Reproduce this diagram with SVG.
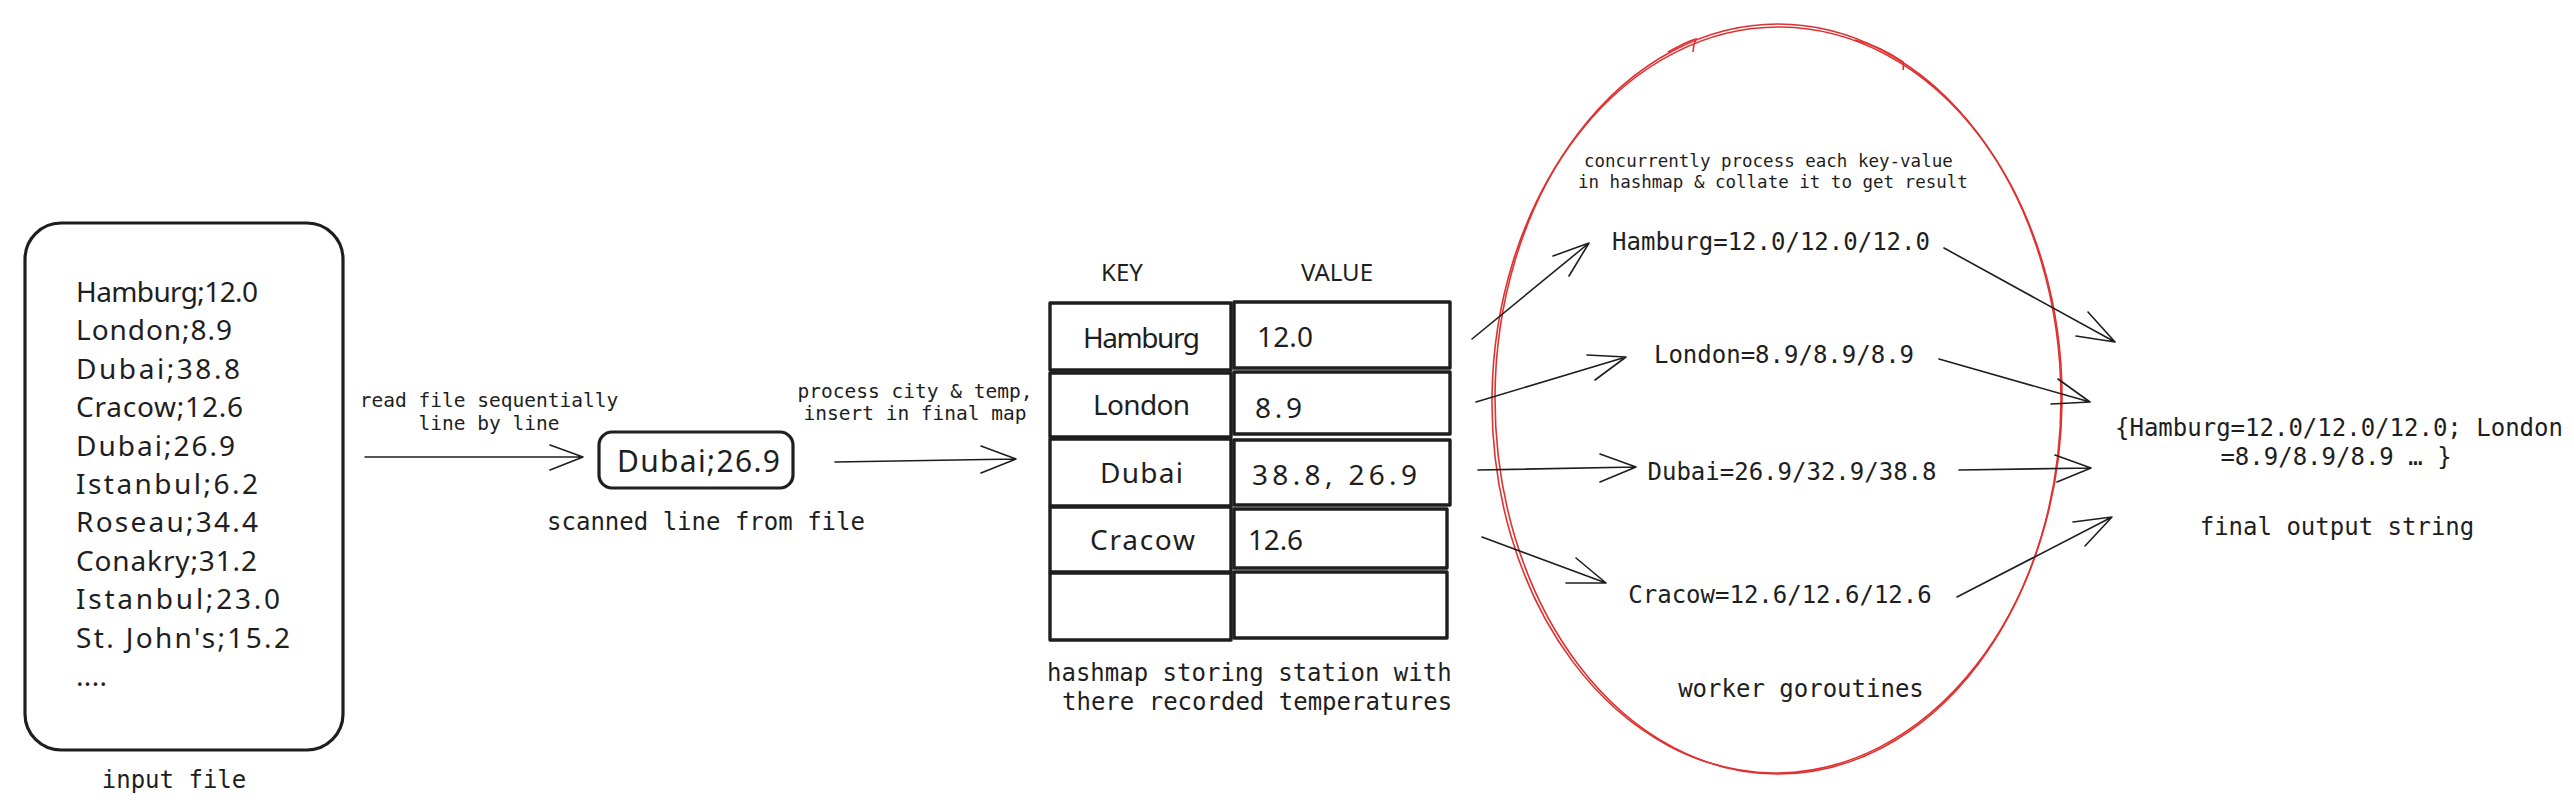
<svg xmlns="http://www.w3.org/2000/svg" width="2574" height="802" viewBox="0 0 2574 802">
<style>
.hand{font-family:"Noto Sans","DejaVu Sans",sans-serif;fill:#1e1e1e}
.mono{font-family:"DejaVu Sans Mono","Liberation Mono",monospace;fill:#1e1e1e}
.box{fill:none;stroke:#1e1e1e;stroke-width:3.2;stroke-linejoin:round}
.cell{fill:none;stroke:#1e1e1e;stroke-width:3.4;stroke-linejoin:round}
.conn{fill:none;stroke:#1e1e1e;stroke-width:1.6;stroke-linecap:round;stroke-linejoin:round}
.red{fill:none;stroke:#e03131;stroke-width:1.6}
</style>
<rect width="2574" height="802" fill="#ffffff"/>

<g id="input-file">
<rect class="box" x="25" y="223" width="318" height="527" rx="36"/>
<g class="hand" font-size="28">
<text x="76" y="302" textLength="182">Hamburg;12.0</text>
<text x="76" y="340.4" textLength="156">London;8.9</text>
<text x="76" y="378.8" textLength="164">Dubai;38.8</text>
<text x="76" y="417.2" textLength="167">Cracow;12.6</text>
<text x="76" y="455.6" textLength="159">Dubai;26.9</text>
<text x="76" y="494" textLength="182">Istanbul;6.2</text>
<text x="76" y="532.4" textLength="182">Roseau;34.4</text>
<text x="76" y="570.8" textLength="181">Conakry;31.2</text>
<text x="76" y="609.2" textLength="204">Istanbul;23.0</text>
<text x="76" y="647.6" textLength="214">St. John's;15.2</text>
<text x="76" y="686" textLength="31">....</text>
</g>
<text class="mono" x="174" y="788" font-size="24" text-anchor="middle">input file</text>
</g>

<g id="scanned-line">
<rect class="box" x="599" y="432" width="194" height="56" rx="13"/>
<text class="hand" x="617" y="472" font-size="30" textLength="163">Dubai;26.9</text>
<text class="mono" x="706" y="530" font-size="24" text-anchor="middle">scanned line from file</text>
</g>

<g id="hashmap">
<text class="hand" x="1122" y="281" font-size="24" text-anchor="middle">KEY</text>
<text class="hand" x="1337" y="281" font-size="24" text-anchor="middle">VALUE</text>
<rect class="cell" x="1050" y="303" width="181" height="67"/>
<rect class="cell" x="1234" y="302" width="216" height="66"/>
<rect class="cell" x="1050" y="373" width="181" height="64"/>
<rect class="cell" x="1234" y="372" width="216" height="62"/>
<rect class="cell" x="1050" y="439" width="181" height="67"/>
<rect class="cell" x="1234" y="440" width="216" height="65"/>
<rect class="cell" x="1050" y="507" width="181" height="65"/>
<rect class="cell" x="1234" y="509" width="213" height="59"/>
<rect class="cell" x="1050" y="573" width="181" height="67"/>
<rect class="cell" x="1234" y="572" width="213" height="66"/>
<g class="hand" font-size="28">
<text x="1083" y="348" textLength="117">Hamburg</text>
<text x="1093" y="415" textLength="97">London</text>
<text x="1100" y="483" textLength="83">Dubai</text>
<text x="1090" y="550" textLength="105">Cracow</text>
<text x="1257" y="347" textLength="56">12.0</text>
<text x="1255" y="418" textLength="47">8.9</text>
<text x="1252" y="485" textLength="165">38.8, 26.9</text>
<text x="1248" y="550" textLength="55">12.6</text>
</g>
<g class="mono" font-size="24">
<text x="1047" y="681">hashmap storing station with</text>
<text x="1062" y="710">there recorded temperatures</text>
</g>
</g>

<g id="worker-goroutines">
<ellipse class="red" cx="1778" cy="399" rx="283" ry="375"/>
<ellipse class="red" cx="1777" cy="400" rx="285" ry="373" transform="rotate(0.6 1777 400)"/>
<path class="red" d="M1668 52 Q1690 40 1696 39 Q1693 45 1693 52"/>
<path class="red" d="M1855 40 Q1880 46 1903 62 Q1904 66 1903 70"/>
<g class="mono" font-size="17.5">
<text x="1584" y="167">concurrently process each key-value</text>
<text x="1578" y="188">in hashmap &amp; collate it to get result</text>
</g>
<g class="mono" font-size="24" text-anchor="middle">
<text x="1771" y="250">Hamburg=12.0/12.0/12.0</text>
<text x="1784" y="363">London=8.9/8.9/8.9</text>
<text x="1792" y="480">Dubai=26.9/32.9/38.8</text>
<text x="1780" y="603">Cracow=12.6/12.6/12.6</text>
<text x="1801" y="697">worker goroutines</text>
</g>
</g>

<g id="final-output">
<g class="mono" font-size="24">
<text x="2115" y="436">{Hamburg=12.0/12.0/12.0; London</text>
<text x="2336" y="465" text-anchor="middle">=8.9/8.9/8.9 … }</text>
<text x="2337" y="535" text-anchor="middle">final output string</text>
</g>
</g>

<g id="connectors">
<g class="mono" font-size="19.5" text-anchor="middle">
<text x="489" y="407">read file sequentially</text>
<text x="489" y="430">line by line</text>
<text x="915" y="398">process city &amp; temp,</text>
<text x="915" y="420">insert in final map</text>
</g>
<path class="conn" d="M365 457 L583 457 M550 445 L583 457 L550 470"/>
<path class="conn" d="M835 462 L1016 459 M981 446 L1016 459 L981 473"/>
<path class="conn" d="M1472 339 L1589 243 M1553 256 L1589 243 L1569 276"/>
<path class="conn" d="M1476 402 L1626 357 M1587 355 L1626 357 L1595 380"/>
<path class="conn" d="M1478 470 L1636 467 M1600 454 L1636 467 L1600 482"/>
<path class="conn" d="M1482 537 L1606 583 M1576 558 L1606 583 L1566 583"/>
<path class="conn" d="M1944 248 L2115 342 M2088 312 L2115 342 L2076 336"/>
<path class="conn" d="M1939 359 L2090 402 M2058 379 L2090 402 L2051 404"/>
<path class="conn" d="M1959 470 L2091 468 M2055 455 L2091 468 L2057 482"/>
<path class="conn" d="M1957 597 L2112 517 M2073 522 L2112 517 L2085 546"/>
</g>
</svg>
